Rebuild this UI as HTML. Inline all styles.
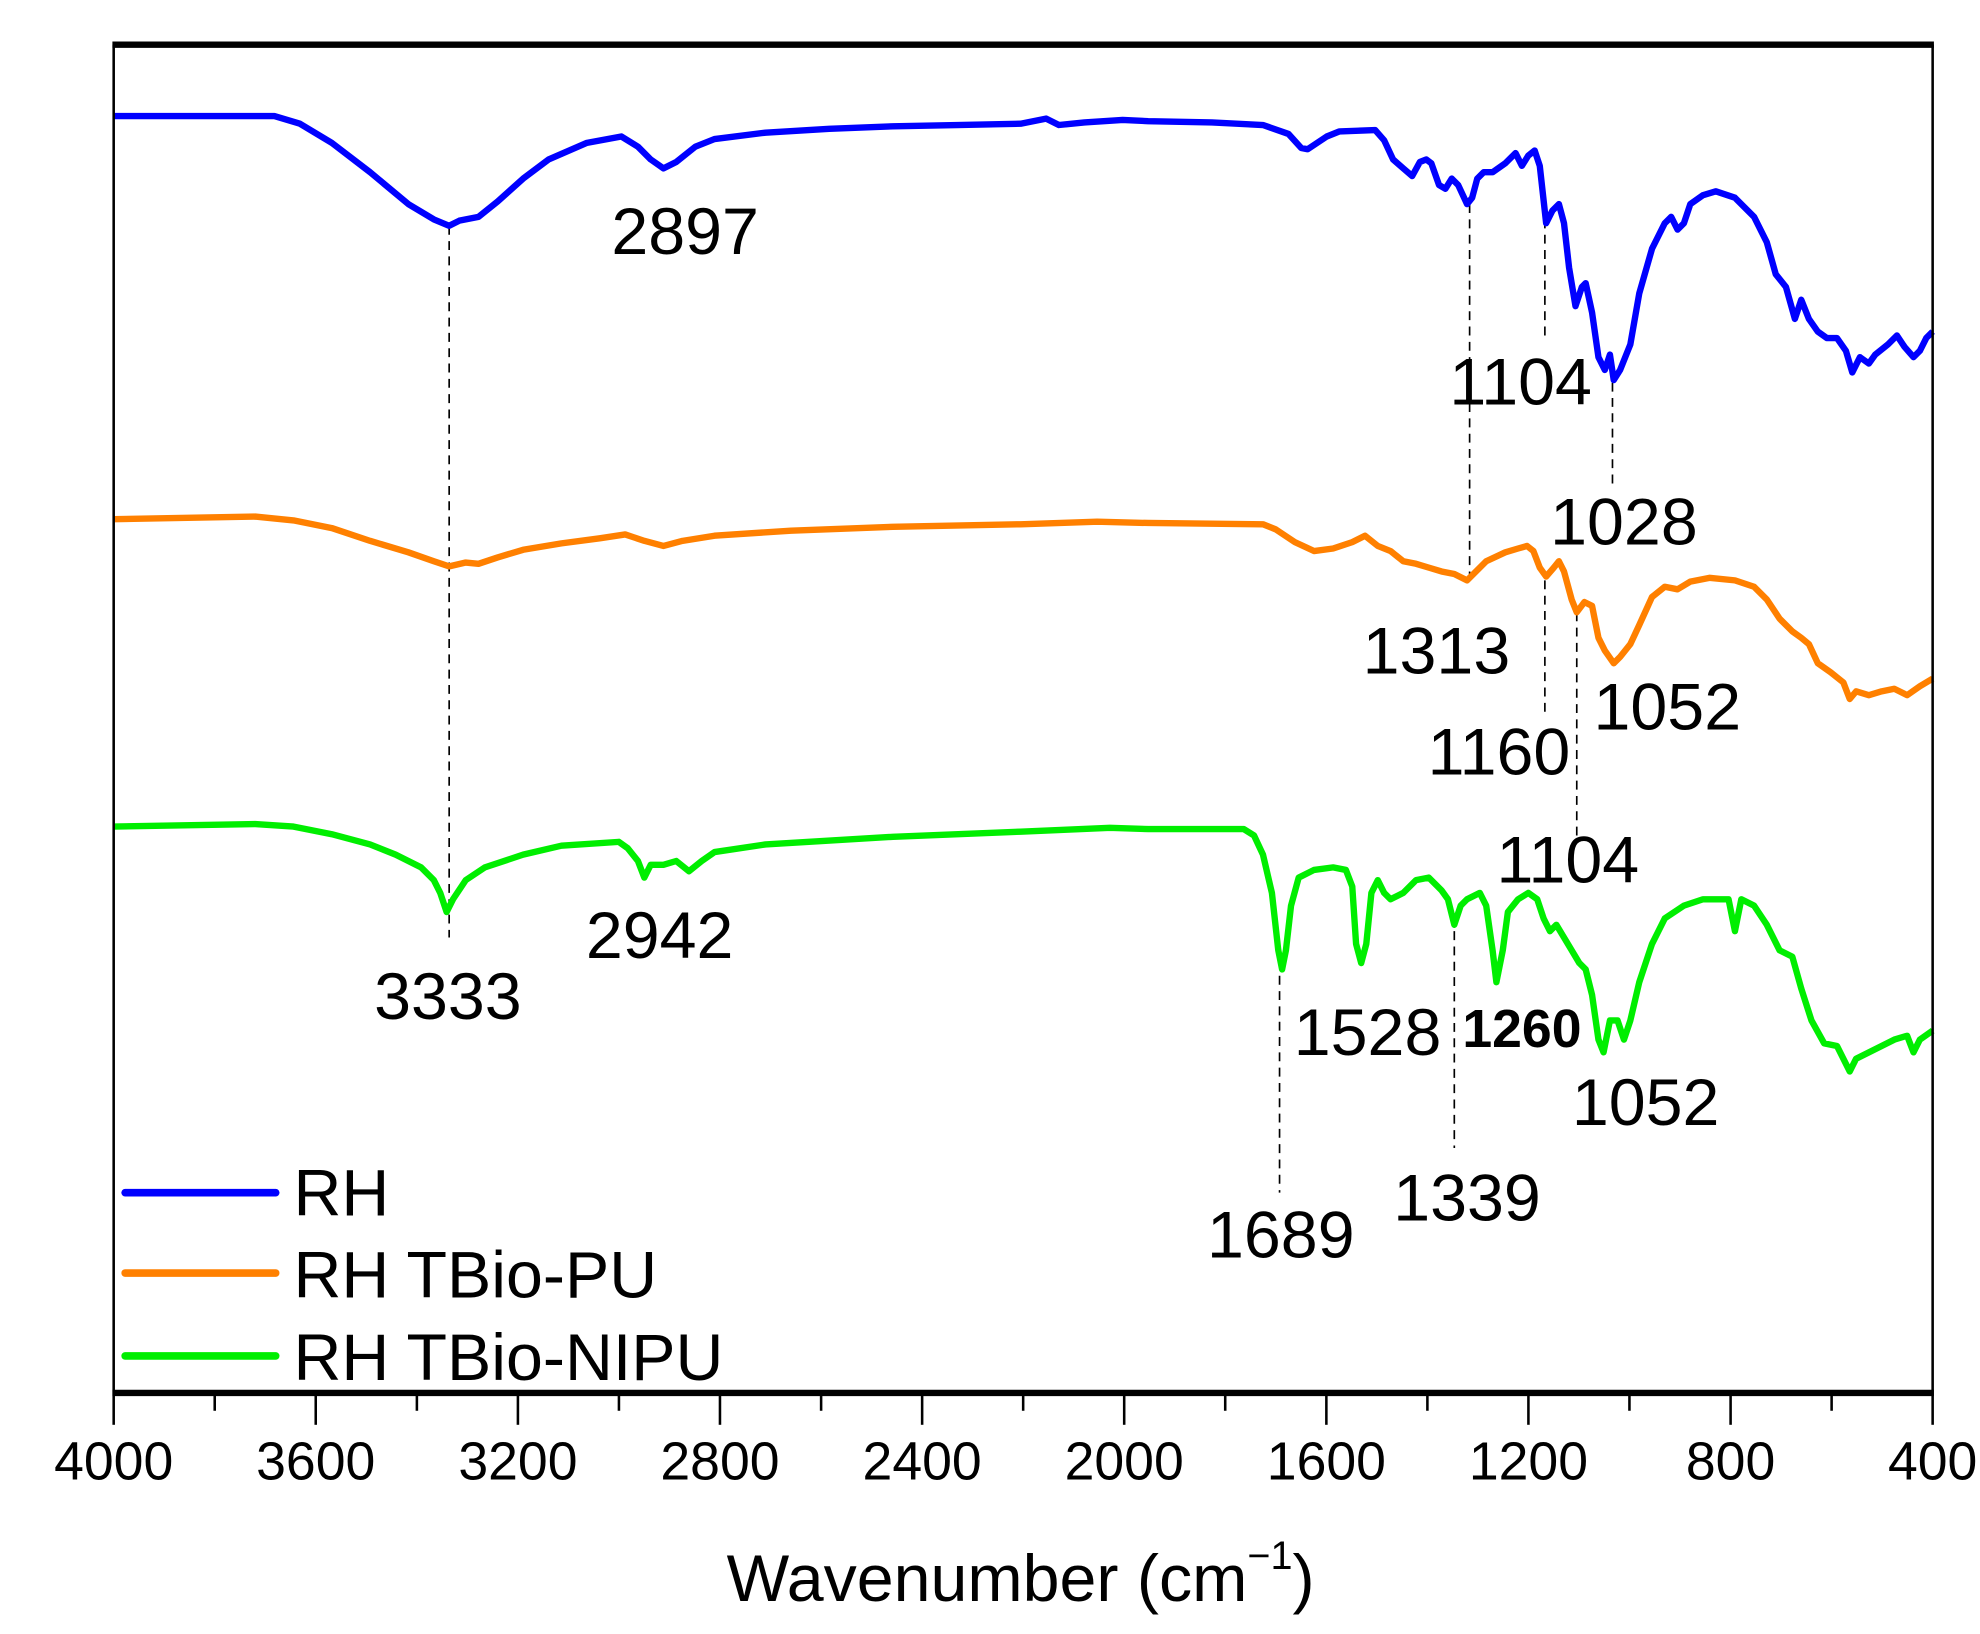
<!DOCTYPE html>
<html><head><meta charset="utf-8"><style>html,body{margin:0;padding:0;background:#fff}svg{display:block}</style></head>
<body>
<svg width="1980" height="1634" viewBox="0 0 1552 1281" xmlns="http://www.w3.org/2000/svg" font-family="Liberation Sans, Arial, sans-serif">
<rect width="1552" height="1281" fill="#fff"/>
<g stroke="#000" stroke-width="1.3" stroke-dasharray="7,5" fill="none">
<line x1="352" y1="177" x2="352" y2="735"/>
<line x1="1152" y1="160" x2="1152" y2="460"/>
<line x1="1211" y1="172" x2="1211" y2="265"/>
<line x1="1211" y1="455" x2="1211" y2="560"/>
<line x1="1264" y1="300" x2="1264" y2="380"/>
<line x1="1236" y1="480" x2="1236" y2="655"/>
<line x1="1003" y1="765" x2="1003" y2="935"/>
<line x1="1140" y1="730" x2="1140" y2="900"/>
</g>
<g fill="none" stroke-width="5" stroke-linejoin="round">
<polyline stroke="#0000ff" points="89,91 215,91 235,97 260,112 290,135 320,160 340,172 352,177 360,173 375,170 390,158 410,140 430,125 460,112 487,107 500,115 510,125 520,132 530,127 545,115 560,109 600,104 650,101 700,99 750,98 800,97 820,93 830,98 850,96 880,94 900,95 950,96 990,98 1010,105 1020,116 1025,117 1040,107 1050,103 1078,102 1085,110 1092,125 1100,132 1107,138 1113,127 1118,125 1122,128 1128,145 1133,148 1138,140 1143,145 1150,160 1154,155 1158,140 1163,135 1170,135 1180,128 1188,120 1193,130 1198,122 1203,118 1207,130 1212,175 1217,165 1222,160 1226,175 1230,210 1235,240 1240,225 1243,222 1248,245 1253,280 1258,290 1262,278 1265,298 1270,290 1278,270 1285,230 1295,195 1305,175 1310,170 1315,180 1320,175 1325,160 1335,153 1345,150 1360,155 1375,170 1385,190 1392,215 1400,225 1407,250 1412,235 1418,250 1425,260 1432,265 1440,265 1447,275 1452,292 1458,280 1465,285 1470,278 1480,270 1487,263 1493,272 1500,280 1505,275 1510,265 1515,260"/>
<polyline stroke="#ff8000" points="89,407 200,405 230,408 260,414 290,424 320,433 340,440 352,444 365,441 375,442 390,437 410,431 440,426 470,422 490,419 505,424 520,428 535,424 560,420 620,416 700,413 800,411 860,409 900,410 990,411 1000,415 1015,425 1030,432 1045,430 1060,425 1070,420 1080,428 1090,432 1100,440 1110,442 1120,445 1130,448 1140,450 1150,455 1155,450 1165,440 1180,433 1190,430 1197,428 1202,432 1207,445 1212,452 1218,445 1222,440 1226,448 1232,470 1236,480 1242,472 1248,475 1253,500 1258,510 1265,520 1270,515 1278,505 1285,490 1295,468 1305,460 1315,462 1325,456 1340,453 1360,455 1375,460 1385,470 1395,485 1405,495 1412,500 1418,505 1425,520 1435,527 1445,535 1450,548 1455,542 1465,545 1475,542 1485,540 1495,545 1505,538 1515,532"/>
<polyline stroke="#00ee00" points="89,648 200,646 230,648 260,654 290,662 310,670 330,680 340,690 345,700 350,715 355,705 365,690 380,680 410,670 440,663 485,660 492,665 500,675 505,688 510,678 520,678 530,675 540,683 550,675 560,668 600,662 700,656 800,652 870,649 900,650 975,650 983,655 990,670 997,700 1002,745 1005,760 1008,745 1012,710 1018,688 1030,682 1045,680 1055,682 1060,695 1063,740 1067,755 1071,740 1075,700 1080,690 1085,700 1090,705 1100,700 1110,690 1120,688 1130,698 1135,705 1140,725 1145,710 1150,705 1160,700 1165,710 1170,745 1173,770 1178,745 1182,715 1190,705 1198,700 1205,705 1210,720 1215,730 1220,725 1226,735 1232,745 1238,755 1243,760 1248,780 1253,815 1257,825 1262,800 1268,800 1273,815 1278,800 1285,770 1295,740 1305,720 1320,710 1335,705 1355,705 1360,730 1365,705 1375,710 1385,725 1395,745 1405,750 1412,775 1420,800 1430,818 1440,820 1450,840 1455,830 1465,825 1475,820 1485,815 1495,812 1500,825 1505,815 1515,808"/>
</g>
<g stroke="#000" fill="none">
<line x1="89" y1="35" x2="89" y2="1092" stroke-width="2"/>
<line x1="1515" y1="35" x2="1515" y2="1092" stroke-width="2"/>
<line x1="88" y1="35" x2="1516" y2="35" stroke-width="5"/>
<line x1="88" y1="1092" x2="1516" y2="1092" stroke-width="5"/>
<g stroke-width="2">
<line x1="89" y1="1092" x2="89" y2="1117"/><line x1="247.4" y1="1092" x2="247.4" y2="1117"/><line x1="405.9" y1="1092" x2="405.9" y2="1117"/><line x1="564.3" y1="1092" x2="564.3" y2="1117"/><line x1="722.8" y1="1092" x2="722.8" y2="1117"/><line x1="881.2" y1="1092" x2="881.2" y2="1117"/><line x1="1039.7" y1="1092" x2="1039.7" y2="1117"/><line x1="1198.1" y1="1092" x2="1198.1" y2="1117"/><line x1="1356.6" y1="1092" x2="1356.6" y2="1117"/><line x1="1515" y1="1092" x2="1515" y2="1117"/>
<line x1="168.2" y1="1092" x2="168.2" y2="1106"/><line x1="326.7" y1="1092" x2="326.7" y2="1106"/><line x1="485.1" y1="1092" x2="485.1" y2="1106"/><line x1="643.6" y1="1092" x2="643.6" y2="1106"/><line x1="802" y1="1092" x2="802" y2="1106"/><line x1="960.4" y1="1092" x2="960.4" y2="1106"/><line x1="1118.9" y1="1092" x2="1118.9" y2="1106"/><line x1="1277.3" y1="1092" x2="1277.3" y2="1106"/><line x1="1435.8" y1="1092" x2="1435.8" y2="1106"/>
</g>
</g>
<g font-size="42" text-anchor="middle" fill="#000">
<text x="89" y="1160">4000</text><text x="247.4" y="1160">3600</text><text x="405.9" y="1160">3200</text><text x="564.3" y="1160">2800</text><text x="722.8" y="1160">2400</text><text x="881.2" y="1160">2000</text><text x="1039.7" y="1160">1600</text><text x="1198.1" y="1160">1200</text><text x="1356.6" y="1160">800</text><text x="1515" y="1160">400</text>
</g>
<text x="800" y="1255" font-size="52" text-anchor="middle">Wavenumber (cm<tspan font-size="31" dy="-25">−1</tspan><tspan dy="25">)</tspan></text>
<g font-size="52" text-anchor="middle" fill="#000">
<text x="537" y="199">2897</text>
<text x="1192" y="317">1104</text>
<text x="1273" y="427">1028</text>
<text x="1126" y="528">1313</text>
<text x="1175" y="607">1160</text>
<text x="1307" y="572">1052</text>
<text x="1229" y="692">1104</text>
<text x="517" y="751">2942</text>
<text x="351" y="799">3333</text>
<text x="1072" y="827">1528</text>
<text x="1193" y="821" font-size="42" font-weight="bold">1260</text>
<text x="1290" y="882">1052</text>
<text x="1004" y="986">1689</text>
<text x="1150" y="957">1339</text>
</g>
<g stroke-width="6" stroke-linecap="round">
<line x1="98" y1="935" x2="216" y2="935" stroke="#0000ff"/>
<line x1="98" y1="998" x2="216" y2="998" stroke="#ff8000"/>
<line x1="98" y1="1063" x2="216" y2="1063" stroke="#00ee00"/>
</g>
<g font-size="52" fill="#000">
<text x="230" y="953">RH</text>
<text x="230" y="1017">RH TBio-PU</text>
<text x="230" y="1082">RH TBio-NIPU</text>
</g>
</svg>
</body></html>
